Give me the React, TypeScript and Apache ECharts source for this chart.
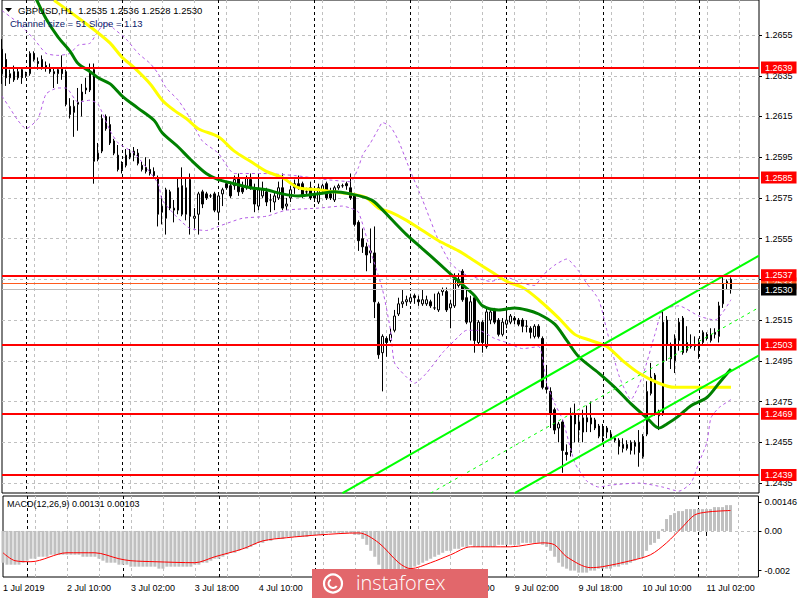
import React, { useEffect, useRef } from "react";
import * as echarts from "echarts";

// ---------- time axis (H1 bars, 1 Jul 18:00 .. 11 Jul 08:00 + right shift) ----------
const tradingDays = [1, 2, 3, 4, 5, 8, 9, 10, 11];
const categories: string[] = [];
tradingDays.forEach((d) => {
  for (let h = 0; h < 24; h++) {
    if (d === 1 && h < 18) continue;
    if (d === 11 && h > 15) continue;
    categories.push(`${d} Jul ${String(h).padStart(2, "0")}:00`);
  }
});

// ---------- candles: [open, high, low, close] ----------
const ohlc: number[][] = [
  [1.2648, 1.2653, 1.2631, 1.2636], [1.2643, 1.2646, 1.263, 1.2634], [1.2634, 1.2638, 1.2631, 1.2636],
  [1.2637, 1.264, 1.2632, 1.2633], [1.2634, 1.2639, 1.2633, 1.2637], [1.2638, 1.2639, 1.2631, 1.2634],
  [1.2635, 1.2637, 1.2634, 1.2636], [1.2636, 1.2647, 1.2635, 1.2646], [1.2646, 1.2647, 1.2642, 1.2643],
  [1.2642, 1.2644, 1.2638, 1.2641], [1.2643, 1.2645, 1.2638, 1.2639], [1.264, 1.2642, 1.2637, 1.2639],
  [1.2639, 1.2641, 1.2636, 1.2637], [1.2637, 1.2639, 1.2629, 1.2636], [1.2636, 1.2639, 1.2631, 1.2638],
  [1.2639, 1.2645, 1.2633, 1.2636], [1.2637, 1.2638, 1.262, 1.2621], [1.262, 1.2624, 1.2614, 1.2616],
  [1.2617, 1.2623, 1.2605, 1.262], [1.2621, 1.2629, 1.2608, 1.2622], [1.2623, 1.2631, 1.2615, 1.2627],
  [1.2628, 1.2634, 1.2626, 1.2629], [1.2628, 1.2641, 1.2627, 1.2637], [1.2638, 1.2641, 1.2582, 1.2593],
  [1.2594, 1.2602, 1.2593, 1.2597], [1.2598, 1.2616, 1.2597, 1.2614], [1.2615, 1.2616, 1.2608, 1.2609],
  [1.2611, 1.2615, 1.2601, 1.2602], [1.2603, 1.2604, 1.2596, 1.2597], [1.2596, 1.2601, 1.2588, 1.2589],
  [1.2589, 1.2593, 1.2587, 1.2592], [1.2591, 1.2599, 1.259, 1.2596], [1.2595, 1.2599, 1.2594, 1.2597],
  [1.2596, 1.26, 1.2593, 1.2598], [1.2597, 1.2599, 1.2591, 1.2592], [1.2591, 1.2593, 1.2588, 1.2589],
  [1.2588, 1.2595, 1.2587, 1.259], [1.2589, 1.2594, 1.2586, 1.2587], [1.2588, 1.259, 1.2585, 1.2586],
  [1.2585, 1.2586, 1.2561, 1.2567], [1.2568, 1.2576, 1.2562, 1.2571], [1.2565, 1.258, 1.2557, 1.2579],
  [1.2578, 1.2579, 1.2569, 1.257], [1.2569, 1.2574, 1.2563, 1.257], [1.2569, 1.2585, 1.2567, 1.258],
  [1.2581, 1.259, 1.2566, 1.2567], [1.2567, 1.2585, 1.2564, 1.258], [1.2584, 1.2587, 1.2557, 1.2566],
  [1.2565, 1.257, 1.256, 1.2566], [1.2567, 1.2578, 1.2557, 1.2577], [1.2578, 1.2579, 1.257, 1.2572],
  [1.2577, 1.2578, 1.2574, 1.2575], [1.2576, 1.2577, 1.2575, 1.2576], [1.2577, 1.2578, 1.2568, 1.2569],
  [1.2568, 1.2577, 1.2564, 1.2576], [1.2577, 1.258, 1.2571, 1.2579], [1.2582, 1.2583, 1.2579, 1.258],
  [1.2581, 1.2583, 1.2575, 1.2576], [1.2581, 1.2586, 1.2579, 1.2584], [1.2585, 1.2587, 1.2576, 1.2578],
  [1.258, 1.2583, 1.2577, 1.2578], [1.258, 1.2586, 1.2579, 1.2585], [1.2584, 1.2587, 1.2579, 1.258],
  [1.2579, 1.2582, 1.2568, 1.2572], [1.2571, 1.2587, 1.2569, 1.2579], [1.2576, 1.2583, 1.2575, 1.2579],
  [1.2578, 1.258, 1.2571, 1.2573], [1.2574, 1.2577, 1.2568, 1.2574], [1.2573, 1.2578, 1.2569, 1.2576],
  [1.2575, 1.2583, 1.2574, 1.258], [1.258, 1.2587, 1.2569, 1.257], [1.2571, 1.2575, 1.2569, 1.2572],
  [1.2575, 1.2581, 1.2573, 1.2579], [1.258, 1.2584, 1.2577, 1.2582], [1.2582, 1.2586, 1.2579, 1.258],
  [1.2582, 1.2583, 1.2575, 1.2576], [1.2578, 1.258, 1.2576, 1.2578], [1.258, 1.2583, 1.2574, 1.2575],
  [1.2577, 1.258, 1.2573, 1.2575], [1.2573, 1.2582, 1.2572, 1.258], [1.2579, 1.2582, 1.2577, 1.2581],
  [1.2582, 1.2583, 1.2574, 1.2575], [1.2577, 1.258, 1.2574, 1.2575], [1.2574, 1.2581, 1.2573, 1.258],
  [1.258, 1.2582, 1.2579, 1.2581], [1.2581, 1.2582, 1.258, 1.2581], [1.2582, 1.2583, 1.2579, 1.2581],
  [1.258, 1.2587, 1.2574, 1.2575], [1.2576, 1.2577, 1.2561, 1.2562], [1.2563, 1.2564, 1.2549, 1.2554],
  [1.2555, 1.256, 1.2548, 1.2551], [1.2551, 1.2553, 1.2539, 1.2547], [1.2548, 1.256, 1.2543, 1.2549],
  [1.2548, 1.2561, 1.2516, 1.2524], [1.2523, 1.2524, 1.2496, 1.2498], [1.2499, 1.2508, 1.248, 1.2507],
  [1.2506, 1.2507, 1.2497, 1.2504], [1.2505, 1.2511, 1.2504, 1.2508], [1.251, 1.252, 1.2509, 1.2517],
  [1.2518, 1.2526, 1.2517, 1.2523], [1.2523, 1.253, 1.2521, 1.2524], [1.2524, 1.2527, 1.2522, 1.2525],
  [1.2524, 1.2528, 1.2523, 1.2526], [1.2527, 1.2528, 1.2523, 1.2526], [1.2525, 1.2527, 1.2522, 1.2524],
  [1.2523, 1.253, 1.2522, 1.2525], [1.2523, 1.2527, 1.2522, 1.2525], [1.2524, 1.2525, 1.2521, 1.2522],
  [1.2521, 1.2528, 1.252, 1.2521], [1.252, 1.2529, 1.2519, 1.2528], [1.2529, 1.2531, 1.2527, 1.253],
  [1.2529, 1.2531, 1.2519, 1.252], [1.2521, 1.2525, 1.2511, 1.2523], [1.2522, 1.2538, 1.2521, 1.2535],
  [1.2532, 1.2538, 1.2531, 1.2535], [1.2539, 1.254, 1.2524, 1.2525], [1.2526, 1.2531, 1.2513, 1.2514],
  [1.2514, 1.2527, 1.2505, 1.2524], [1.2526, 1.2527, 1.2499, 1.2505], [1.2504, 1.2515, 1.2503, 1.2514],
  [1.2514, 1.2515, 1.2499, 1.2504], [1.2502, 1.2521, 1.2501, 1.2519], [1.2515, 1.2521, 1.2513, 1.2519],
  [1.252, 1.2521, 1.2513, 1.2514], [1.2515, 1.2516, 1.2507, 1.2508], [1.2508, 1.2516, 1.2507, 1.2514],
  [1.2513, 1.2521, 1.2511, 1.2515], [1.2514, 1.2518, 1.2513, 1.2517], [1.2516, 1.2517, 1.2513, 1.2515],
  [1.2515, 1.2516, 1.2512, 1.2513], [1.2515, 1.2516, 1.2509, 1.2512], [1.2512, 1.2515, 1.2509, 1.2512],
  [1.2511, 1.2512, 1.2506, 1.2509], [1.2507, 1.2513, 1.2506, 1.2512], [1.2512, 1.2513, 1.2506, 1.2507],
  [1.2506, 1.2507, 1.2481, 1.2482], [1.2482, 1.2493, 1.2479, 1.2481], [1.248, 1.2482, 1.2462, 1.2469],
  [1.2471, 1.2472, 1.2459, 1.2461], [1.2462, 1.2465, 1.2455, 1.2464], [1.2465, 1.2466, 1.244, 1.2451],
  [1.245, 1.2454, 1.2446, 1.2449], [1.245, 1.2472, 1.2448, 1.2468], [1.2469, 1.2474, 1.2455, 1.2464],
  [1.2465, 1.2469, 1.2455, 1.2461], [1.246, 1.2471, 1.2455, 1.2467], [1.2467, 1.2473, 1.246, 1.2465],
  [1.2464, 1.2475, 1.246, 1.2467], [1.2466, 1.2467, 1.2461, 1.2462], [1.2463, 1.2464, 1.2457, 1.2458],
  [1.2458, 1.2464, 1.2455, 1.2462], [1.246, 1.2463, 1.2457, 1.2462], [1.2459, 1.2461, 1.2456, 1.2457],
  [1.2457, 1.2458, 1.2455, 1.2456], [1.2456, 1.2457, 1.2449, 1.2453], [1.2452, 1.2457, 1.245, 1.2454],
  [1.2452, 1.2456, 1.2451, 1.2454], [1.2451, 1.2456, 1.2449, 1.2455], [1.2453, 1.2456, 1.2449, 1.2455],
  [1.2455, 1.2461, 1.2443, 1.245], [1.2448, 1.2459, 1.2447, 1.2458], [1.2459, 1.2485, 1.2458, 1.248],
  [1.2479, 1.2494, 1.2478, 1.2487], [1.2488, 1.2489, 1.2468, 1.2469], [1.2468, 1.2471, 1.2461, 1.247],
  [1.2469, 1.252, 1.2468, 1.2514], [1.2515, 1.2517, 1.2495, 1.2503], [1.2503, 1.2504, 1.2491, 1.2496],
  [1.2495, 1.2508, 1.2489, 1.2506], [1.2505, 1.2516, 1.25, 1.2514], [1.2516, 1.2517, 1.2498, 1.2499],
  [1.25, 1.2512, 1.2499, 1.2504], [1.2503, 1.2508, 1.2501, 1.2502], [1.2503, 1.2507, 1.25, 1.2502],
  [1.25, 1.2506, 1.2496, 1.2504], [1.2504, 1.251, 1.2503, 1.2509], [1.2508, 1.2509, 1.2505, 1.2506],
  [1.2505, 1.2511, 1.2504, 1.2508], [1.2509, 1.2511, 1.2506, 1.2508], [1.2507, 1.2524, 1.2504, 1.2522],
  [1.2523, 1.2537, 1.2521, 1.2533], [1.2533, 1.2535, 1.253, 1.2534], [1.2535, 1.2536, 1.2528, 1.253],
];

// ---------- indicators: [bar index, value] ----------
const maGreen: number[][] = [
  [8, 1.2675], [11, 1.2663], [14, 1.2654], [17, 1.2647], [19, 1.2641], [22, 1.2637], [24, 1.2634],
  [27, 1.2631], [30, 1.2625], [34, 1.2619], [38, 1.2613], [40, 1.2607], [44, 1.26], [47, 1.2594],
  [51, 1.2587], [54, 1.2584], [58, 1.2582], [62, 1.258], [66, 1.2579], [70, 1.2577], [74, 1.2576],
  [79, 1.2577], [83, 1.2578], [87, 1.2577], [91, 1.2575], [93, 1.2573], [97, 1.2565], [101, 1.2557],
  [105, 1.255], [109, 1.2543], [114, 1.2534], [118, 1.2527], [120, 1.2522], [124, 1.252], [128, 1.2521],
  [131, 1.252], [134, 1.2518], [138, 1.2513], [141, 1.2505], [144, 1.2497], [149, 1.2489], [153, 1.2482],
  [157, 1.2474], [161, 1.2467], [164, 1.2462], [166, 1.2464], [169, 1.2468], [172, 1.2473], [176, 1.2477],
  [179, 1.2484], [182, 1.2491],
];
const maYellow: number[][] = [
  [13, 1.2672], [20, 1.2662], [24, 1.2656], [27, 1.2651], [30, 1.2644], [33, 1.2639], [37, 1.2631],
  [40, 1.2623], [43, 1.2618], [46, 1.2614], [49, 1.2609], [54, 1.2605], [58, 1.2598], [62, 1.2593],
  [66, 1.2588], [70, 1.2585], [74, 1.258], [79, 1.2579], [83, 1.2578], [87, 1.2577], [91, 1.2575],
  [94, 1.257], [97, 1.2568], [101, 1.2564], [105, 1.2559], [109, 1.2554], [114, 1.2549], [118, 1.2544],
  [122, 1.2539], [126, 1.2534], [130, 1.2531], [134, 1.2525], [139, 1.2516], [143, 1.2508], [147, 1.2505],
  [151, 1.2502], [155, 1.2495], [159, 1.2489], [164, 1.2484], [168, 1.2482], [172, 1.2482], [176, 1.2482],
  [182, 1.2482],
];
const bandUpper: number[][] = [
  [0, 1.2667], [4, 1.2661], [8, 1.2653], [11, 1.2646], [14, 1.2645], [17, 1.2646], [19, 1.265], [22, 1.2651],
  [24, 1.2657], [26, 1.2661], [28, 1.2658], [31, 1.2653], [34, 1.2646], [37, 1.2641], [39, 1.2636],
  [41, 1.2629], [44, 1.2623], [47, 1.2614], [50, 1.2603], [54, 1.2597], [58, 1.2587], [65, 1.2587],
  [73, 1.2586], [81, 1.2584], [87, 1.2583], [89, 1.259], [90, 1.2596], [92, 1.2602], [94, 1.2609],
  [95, 1.2612], [97, 1.261], [99, 1.2603], [102, 1.2588], [105, 1.2574], [109, 1.2554], [112, 1.2543],
  [115, 1.2538], [118, 1.2536], [122, 1.2534], [126, 1.2536], [130, 1.2533], [133, 1.2532], [135, 1.2537],
  [138, 1.2542], [141, 1.2545], [144, 1.2539], [146, 1.2533], [149, 1.2525], [151, 1.251], [154, 1.2488],
  [157, 1.2476], [160, 1.2488], [163, 1.2508], [165, 1.252], [169, 1.2522], [174, 1.2517], [178, 1.2515],
  [182, 1.2525],
];
const bandLower: number[][] = [
  [0, 1.2625], [2, 1.2619], [4, 1.2613], [6, 1.2609], [9, 1.2614], [11, 1.2626], [14, 1.2629], [16, 1.2629],
  [19, 1.2622], [22, 1.2623], [24, 1.2621], [27, 1.2608], [29, 1.2602], [33, 1.2597], [36, 1.259],
  [39, 1.2582], [40, 1.2574], [43, 1.2567], [45, 1.2563], [47, 1.256], [51, 1.2559], [54, 1.2561],
  [60, 1.2565], [66, 1.2566], [71, 1.2569], [79, 1.257], [85, 1.2571], [87, 1.257], [89, 1.2568],
  [92, 1.2549], [95, 1.253], [97, 1.251], [98, 1.2494], [101, 1.2487], [103, 1.2484], [106, 1.2489],
  [110, 1.2499], [113, 1.2505], [116, 1.251], [119, 1.251], [123, 1.2506], [126, 1.2504], [130, 1.2501],
  [134, 1.2502], [136, 1.2484], [138, 1.2474], [140, 1.2466], [143, 1.2445], [146, 1.2436], [149, 1.2433],
  [152, 1.2434], [159, 1.2435], [165, 1.2433], [169, 1.2431], [172, 1.2435], [174, 1.2445], [176, 1.2455],
  [177, 1.2467], [179, 1.2472], [182, 1.2476],
];
const channelUpper: number[][] = [[85, 1.243], [189, 1.25467]];
const channelMiddle: number[][] = [[107, 1.243], [189, 1.25212]];
const channelLower: number[][] = [[128, 1.243], [189, 1.24977]];

const macdHist: number[] = [
  -16, -17, -17, -17, -17, -16, -15, -14, -14, -13, -13, -13, -12, -12, -12, -12, -12, -12,
  -12, -12, -13, -13, -13, -13, -14, -15, -16, -16, -16, -17, -17, -17, -18, -18, -18, -18,
  -18, -18, -18, -19, -19, -18, -18, -18, -18, -18, -18, -18, -17, -17, -16, -16, -15, -14,
  -14, -13, -12, -11, -11, -10, -9, -9, -8, -7, -6, -6, -5, -5, -4, -4, -4, -3, -3, -3, -3,
  -3, -3, -2, -2, -2, -2, -1, -1, -1, -1, -1, -1, -1, -2, -2, -4, -7, -10, -13, -17, -20,
  -21, -21, -21, -21, -20, -20, -19, -18, -17, -16, -15, -14, -13, -12, -11, -10, -10, -9,
  -9, -8, -8, -7, -8, -8, -8, -8, -8, -8, -7, -7, -7, -7, -7, -7, -6, -6, -6, -6, -6, -7,
  -8, -10, -13, -16, -18, -19, -20, -20, -21, -21, -21, -20, -20, -19, -19, -19, -19, -18,
  -18, -17, -17, -16, -15, -14, -13, -10, -7, -6, -4, 1, 6, 8, 9, 10, 10, 11, 11, 11, 11,
  11, 11, 11, 12, 12, 12, 13, 13,
].map((v) => v / 10000);
const macdSignal: number[][] = [
  [0, -0.0011], [3, -0.0015], [7, -0.00155], [16, -0.0011], [23, -0.0011], [29, -0.0014], [32, -0.0015],
  [38, -0.00155], [48, -0.0016], [53, -0.0013], [60, -0.0009], [65, -0.0005], [71, -0.00034], [79, -0.0002],
  [89, -0.0001], [94, -0.0006], [99, -0.0016], [102, -0.0019], [107, -0.0016], [112, -0.0012], [117, -0.0008],
  [122, -0.0008], [127, -0.0008], [135, -0.0006], [138, -0.0007], [141, -0.0013], [147, -0.00185],
  [150, -0.0018], [157, -0.0015], [162, -0.0012], [166, -0.0006], [170, 0.0002], [173, 0.0008],
  [176, 0.00095], [179, 0.001], [182, 0.00103],
];

const priceTicks = [1.2435, 1.2455, 1.2475, 1.2495, 1.2515, 1.2535, 1.2555, 1.2575, 1.2595, 1.2615, 1.2635, 1.2655];
// 1.2535 is hidden behind the price labels in the reference
const priceLabels = priceTicks.filter((v) => v !== 1.2535);
const levels = [1.2639, 1.2585, 1.2537, 1.2503, 1.2469, 1.2439];
const bidPrice = 1.253;
const askPrice = 1.2533;
const macdTicks = [0.00146, 0, -0.002];

const FONT = "'Liberation Sans', Arial, sans-serif";
const GRID_GRAY = "#C0C0C0";

function buildOption() {
  const labelInterval = (i: number) => i % 16 === 0;
  const grayInterval = (i: number) => i > 0 && i % 8 === 0;
  const dayInterval = (i: number) => categories[i].endsWith(" 00:00");
  const levelLabel = (text: string, bg: string) => ({
    show: true,
    position: "end",
    distance: 2,
    formatter: text,
    color: "#fff",
    backgroundColor: bg,
    padding: [1, 4, 0, 4],
    fontSize: 9,
    lineHeight: 11,
    fontFamily: FONT,
  });
  const lineSeries = (data: number[][], color: string, width: number, type: any = "solid", smooth: number = 0.3, z = 3) => ({
    type: "line",
    xAxisIndex: 0,
    yAxisIndex: 0,
    data,
    symbol: "none",
    smooth,
    silent: true,
    z,
    lineStyle: { color, width, type },
  });
  const hiddenCat = (gridIndex: number, interval: any, color: string) => ({
    type: "category",
    gridIndex,
    data: categories,
    boundaryGap: false,
    axisLine: { show: false },
    axisTick: { show: false },
    axisLabel: { show: false },
    splitLine: { show: true, interval, lineStyle: { color, width: 1, type: [3, 3] } },
  });

  const levelLines = [
    { yAxis: askPrice, lineStyle: { color: "#FF5A1E", width: 1, type: "solid" }, label: levelLabel(askPrice.toFixed(4), "#FF5A1E") },
    ...levels.map((lv) => ({
      yAxis: lv,
      lineStyle: { color: "#FF0000", width: 2, type: "solid" },
      label: levelLabel(lv.toFixed(4), "#FF0000"),
    })),
    { yAxis: bidPrice, lineStyle: { color: "#BDBDBD", width: 1, type: "solid" }, label: levelLabel(bidPrice.toFixed(4), "#000") },
  ];

  return {
    animation: false,
    backgroundColor: "#fff",
    textStyle: { fontFamily: FONT },
    grid: [
      { left: 2, right: 41, top: -1, height: 494, show: true, borderColor: "#000", borderWidth: 1, backgroundColor: "transparent" },
      { left: 2, right: 41, top: 496, height: 81, show: true, borderColor: "#000", borderWidth: 1, backgroundColor: "transparent" },
    ],
    xAxis: [
      hiddenCat(0, grayInterval, GRID_GRAY),
      {
        type: "category",
        gridIndex: 1,
        data: categories,
        boundaryGap: false,
        axisLine: { show: false },
        axisTick: { show: true, interval: labelInterval, length: 5, lineStyle: { color: "#000" } },
        axisLabel: {
          interval: labelInterval,
          formatter: (v: string, i: number) => (i === 0 ? "1 Jul 2019" : v),
          align: "left",
          margin: 6,
          color: "#000",
          fontSize: 9,
          fontFamily: FONT,
        },
        splitLine: { show: true, interval: grayInterval, lineStyle: { color: GRID_GRAY, width: 1, type: [3, 3] } },
      },
      hiddenCat(0, dayInterval, "#000"),
      hiddenCat(1, dayInterval, "#000"),
    ],
    yAxis: [
      {
        type: "value",
        gridIndex: 0,
        position: "right",
        min: 1.24301,
        max: 1.26722,
        axisLine: { show: false },
        axisTick: { show: true, customValues: priceTicks, length: 3, lineStyle: { color: "#000" } },
        axisLabel: { customValues: priceLabels, formatter: (v: number) => v.toFixed(4), margin: 6, color: "#000", fontSize: 9, fontFamily: FONT },
        splitLine: { show: true, lineStyle: { color: GRID_GRAY, width: 1, type: [3, 3] } },
      },
      {
        type: "value",
        gridIndex: 1,
        position: "right",
        min: -0.00232,
        max: 0.00176,
        axisLine: { show: false },
        axisTick: { show: true, customValues: macdTicks, length: 3, lineStyle: { color: "#000" } },
        axisLabel: {
          customValues: macdTicks,
          formatter: (v: number) => (v === 0 ? "0.00" : String(v)),
          margin: 6,
          color: "#000",
          fontSize: 9,
          fontFamily: FONT,
        },
        splitLine: { show: false },
      },
    ],
    series: [
      {
        type: "candlestick",
        xAxisIndex: 0,
        yAxisIndex: 0,
        data: ohlc.map(([o, h, l, c]) => [o, c, l, h]),
        barWidth: 2,
        silent: true,
        z: 2,
        itemStyle: { color: "#fff", color0: "#000", borderColor: "#000", borderColor0: "#000", borderWidth: 1 },
        markLine: {
          symbol: ["none", "none"],
          silent: true,
          animation: false,
          precision: 5,
          z: 6,
          data: levelLines,
        },
      },
      lineSeries(bandUpper, "#B45CE6", 1, [3, 3], 0.2),
      lineSeries(bandLower, "#B45CE6", 1, [3, 3], 0.2),
      lineSeries(maYellow, "#FFFF00", 3),
      lineSeries(maGreen, "#008000", 3),
      lineSeries(channelUpper, "#00FF00", 2, "solid", 0, 4),
      lineSeries(channelMiddle, "#00FF00", 1, [3, 4], 0, 4),
      lineSeries(channelLower, "#00FF00", 2, "solid", 0, 4),
      {
        type: "bar",
        xAxisIndex: 1,
        yAxisIndex: 1,
        data: macdHist,
        barWidth: 3,
        silent: true,
        itemStyle: { color: "#C0C0C0" },
        markLine: {
          symbol: ["none", "none"],
          silent: true,
          precision: 6,
          label: { show: false },
          data: [{ yAxis: 0, lineStyle: { color: GRID_GRAY, width: 1, type: [3, 3] } }],
        },
      },
      {
        type: "line",
        xAxisIndex: 1,
        yAxisIndex: 1,
        data: macdSignal,
        symbol: "none",
        smooth: 0.3,
        silent: true,
        lineStyle: { color: "#FF0000", width: 1 },
      },
    ],
    graphic: [
      { type: "polygon", z: 100, shape: { points: [[5, 8], [12, 8], [8.5, 12]] }, style: { fill: "#000" } },
      { type: "text", z: 100, x: 18, y: 5, style: { text: "GBPUSD,H1  1.2535 1.2536 1.2528 1.2530", fill: "#000", font: `9.5px ${FONT}` } },
      { type: "text", z: 100, x: 10, y: 18, style: { text: "Channel size = 51 Slope = 1.13", fill: "#0A1A6A", font: `9.5px ${FONT}` } },
      { type: "text", z: 100, x: 7, y: 499, style: { text: "MACD(12,26,9) 0.00131 0.00103", fill: "#000", font: `9px ${FONT}` } },
      {
        type: "group",
        z: 100,
        children: [
          { type: "rect", z: 100, shape: { x: 312, y: 569, width: 176, height: 29 }, style: { fill: "#E2676B" } },
          { type: "circle", z: 101, shape: { cx: 333, cy: 583.5, r: 9 }, style: { fill: "none", stroke: "#fff", lineWidth: 2.2 } },
          { type: "arc", z: 101, shape: { cx: 333, cy: 583.5, r: 4.5, startAngle: 0.6, endAngle: 4.2 }, style: { fill: "none", stroke: "#fff", lineWidth: 2 } },
          { type: "text", z: 101, x: 356, y: 572, style: { text: "instaforex", fill: "#fff", font: `300 20px 'Open Sans', sans-serif` } },
        ],
      },
    ],
  };
}

export default function App() {
  const ref = useRef<HTMLDivElement>(null);
  useEffect(() => {
    document.body.style.margin = "0";
    const chart = echarts.init(ref.current as HTMLDivElement, undefined, { renderer: "svg" });
    chart.setOption(buildOption() as any);
    return () => chart.dispose();
  }, []);
  return <div ref={ref} style={{ position: "fixed", left: 0, top: 0, width: 800, height: 600, background: "#fff" }} />;
}
